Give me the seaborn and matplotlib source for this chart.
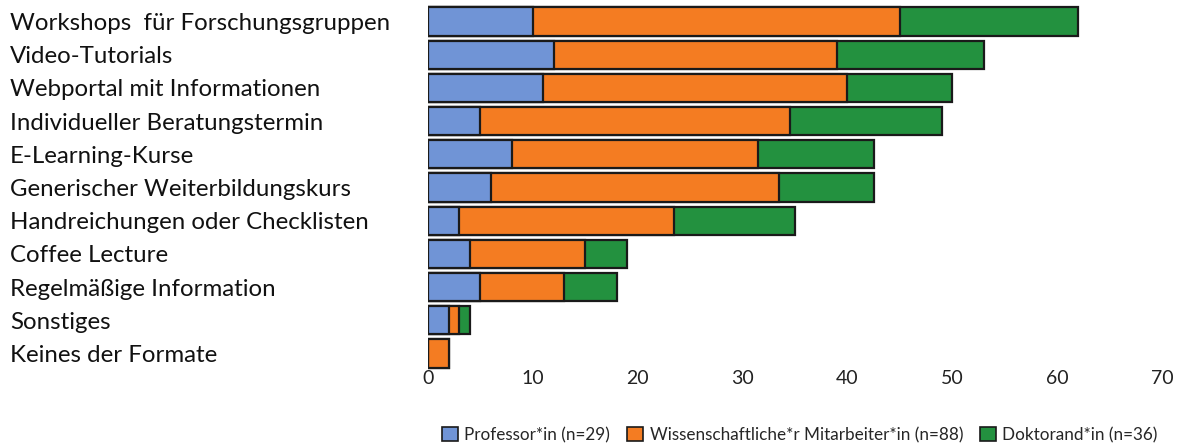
import matplotlib
matplotlib.use("Agg")
import matplotlib.pyplot as plt
import seaborn as sns
import pandas as pd
import numpy as np
from matplotlib.patches import Patch

formats = [
    "Workshops  für Forschungsgruppen",
    "Video-Tutorials",
    "Webportal mit Informationen",
    "Individueller Beratungstermin",
    "E-Learning-Kurse",
    "Generischer Weiterbildungskurs",
    "Handreichungen oder Checklisten",
    "Coffee Lecture",
    "Regelmäßige Information",
    "Sonstiges",
    "Keines der Formate",
]
professor = [10, 12, 11, 5, 8, 6, 3, 4, 5, 2, 0]
mitarbeiter = [35, 27, 29, 29.5, 23.5, 27.5, 20.5, 11, 8, 1, 2]
doktorand = [17, 14, 10, 14.5, 11, 9, 11.5, 4, 5, 1, 0]

series_names = [
    "Professor*in (n=29)",
    "Wissenschaftliche*r Mitarbeiter*in (n=88)",
    "Doktorand*in (n=36)",
]
colors = ["#7094d6", "#f47c22", "#23913f"]
x_ticks = [0, 10, 20, 30, 40, 50, 60, 70]

sns.set_theme(style="white")
plt.rcParams["font.family"] = ["Lato", "DejaVu Sans"]

df = pd.DataFrame({
    "Format": formats,
    "Professor": professor,
    "Mitarbeiter": mitarbeiter,
    "Doktorand": doktorand,
})
df["c1"] = df["Professor"]
df["c2"] = df["c1"] + df["Mitarbeiter"]
df["c3"] = df["c2"] + df["Doktorand"]

fig = plt.figure(figsize=(11.79, 4.43), dpi=100)
ax = fig.add_axes([428 / 1179, 1 - 370 / 443, (1162 - 428) / 1179, 365 / 443])

# stacked bars: draw cumulative totals from the outermost segment inwards
for col, color in zip(["c3", "c2", "c1"], colors[::-1]):
    sns.barplot(data=df, y="Format", x=col, orient="h", color=color,
                saturation=1, width=0.85, edgecolor="#1a1a1a", linewidth=1.6,
                ax=ax)

ax.set_xlim(0, 70)
ax.set_xticks(x_ticks)
ax.set_xticklabels([str(t) for t in x_ticks], fontsize=14, color="#222222")
ax.set_xlabel("")
ax.set_ylabel("")
for s in ax.spines.values():
    s.set_visible(False)
ax.tick_params(axis="both", length=0)
ax.tick_params(axis="x", pad=0)

pad_pt = (428 - 10) * 72 / 100
ax.tick_params(axis="y", pad=pad_pt)
for lbl in ax.get_yticklabels():
    lbl.set_horizontalalignment("left")
    lbl.set_fontsize(17.3)
    lbl.set_color("#111111")

handles = [Patch(facecolor=c, edgecolor="#1a1a1a", linewidth=1.2) for c in colors]
fig.legend(handles, series_names, loc="center", bbox_to_anchor=(800 / 1179, 1 - 435 / 443),
           ncol=3, frameon=False, fontsize=12.3, handlelength=0.9, handleheight=0.9,
           handletextpad=0.4, columnspacing=1.0, borderaxespad=0)

fig.savefig("out.png", dpi=100)
